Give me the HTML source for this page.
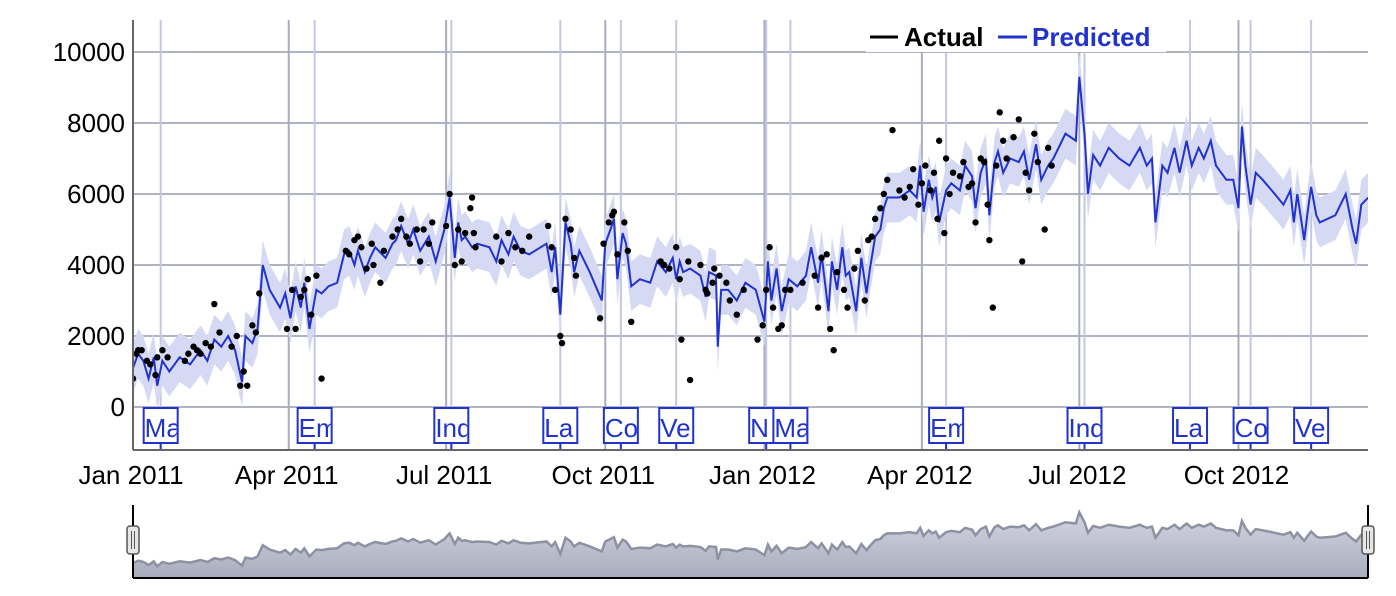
<!DOCTYPE html>
<html><head><meta charset="utf-8"><style>
html,body{margin:0;padding:0;background:#fff;}
svg{display:block;font-family:"Liberation Sans",sans-serif;}
</style></head><body>
<svg id="chart" width="1396" height="596" viewBox="0 0 1396 596" xmlns="http://www.w3.org/2000/svg">
<defs>
<clipPath id="plotClip"><rect x="133" y="20" width="1235" height="430"/></clipPath>
<linearGradient id="miniGrad" x1="0" y1="0" x2="0" y2="1"><stop offset="0" stop-color="#d3d5e2"/><stop offset="1" stop-color="#a9acbd"/></linearGradient>
</defs>
<g id="grid"></g>
<g id="band" clip-path="url(#plotClip)"></g>
<g id="series" clip-path="url(#plotClip)"></g>
<g id="annots"></g>
<g id="axes"></g>
<g id="legend">
<rect x="866" y="20" width="300" height="32" fill="#fff"/>
<line x1="870" y1="37" x2="898" y2="37" stroke="#000" stroke-width="3"/>
<text x="904" y="46" font-size="26" font-weight="bold" fill="#000">Actual</text>
<line x1="998" y1="37" x2="1027" y2="37" stroke="#2233cc" stroke-width="3"/>
<text x="1032" y="46" font-size="26" font-weight="bold" fill="#2233cc">Predicted</text>
</g>
<g id="range"></g>
</svg>
<script>
const predDays=[0,3,6,9,12,14,17,21,27,33,39,43,47,51,55,59,63,65,69,72,75,79,85,88,91,94,97,99,102,106,109,113,118,122,125,128,130,134,137,140,146,150,152,155,159,162,166,171,175,180,183,186,188,190,192,196,199,206,210,213,217,220,224,229,239,242,244,247,250,253,255,258,264,271,273,276,278,280,283,285,288,293,299,303,308,312,314,316,318,322,328,331,333,337,338,340,344,349,354,360,365,367,369,372,375,379,384,389,392,396,398,402,404,407,410,412,414,418,421,424,426,429,432,434,436,443,449,453,455,457,460,462,464,466,470,473,478,481,485,487,490,493,495,498,500,503,507,512,515,518,522,525,529,532,536,539,545,547,550,552,555,559,564,570,576,582,586,589,591,595,598,602,605,609,612,616,619,623,626,632,636,639,641,643,646,649,653,660,665,669,671,673,677,679,681,684,686,695,701,705,707,710,714];
const predVals=[1100,1500,1300,800,1400,600,1300,1000,1400,1200,1600,1300,1900,1700,2000,1600,700,2000,1800,2200,4000,3300,2800,3200,2500,3400,2800,3500,2200,3300,3200,3400,3500,4300,4400,4000,4400,3800,4200,4500,4200,4600,4700,5100,4600,5000,4400,4800,4100,5000,5900,4200,5200,4700,4800,4500,4600,4500,4100,4700,4300,4800,4400,4300,4600,3800,4500,2600,5200,4600,3800,4400,3800,3000,4600,5000,5300,3600,4900,4600,3400,3600,3500,4100,3800,4200,3600,4100,3800,3900,3700,3100,3800,3700,1700,3300,3300,3000,3500,3300,2400,4100,3000,3900,2700,3600,3400,3700,4500,3500,4300,2700,4100,3300,4500,3700,3800,2700,4200,3200,3900,4800,5000,5600,5900,5900,6100,5900,6800,5500,6400,5900,6200,5200,6100,6300,6100,6800,6500,5600,6600,7000,5400,6900,7200,6600,7000,6900,7200,6400,7400,6400,6800,7000,7400,7700,7500,9300,7700,6000,7100,6800,7300,7000,6800,7300,6800,7000,5200,6800,6600,7300,6600,7500,6800,7300,7000,7500,6800,6400,6400,5600,7900,6800,5700,6600,6400,6000,5700,6100,5200,6000,4700,5500,6200,5400,5200,5400,6000,5000,4600,5700,5900];
const actDays=[0,2,3,5,8,10,13,14,17,20,30,32,35,37,39,42,45,47,50,57,60,62,64,66,69,71,73,89,92,94,97,99,101,103,106,109,123,125,128,130,132,135,138,139,143,145,150,153,155,158,160,164,166,168,171,173,181,183,186,188,190,192,195,196,197,198,210,213,217,221,225,229,240,242,244,247,248,250,253,255,256,270,272,275,277,278,280,284,286,288,305,307,310,314,316,317,321,322,328,331,332,335,336,339,343,345,349,353,361,364,366,368,370,373,375,377,380,387,394,396,398,401,403,405,407,411,413,417,419,423,425,427,429,432,434,436,439,443,446,449,451,454,456,458,461,463,465,466,469,470,472,474,478,480,483,485,487,490,492,494,495,497,499,501,503,505,509,512,514,516,518,521,523,527,529,531];
const actVals=[800,1500,1600,1600,1300,1200,900,1400,1600,1400,1300,1500,1700,1600,1500,1800,1700,2900,2100,1700,2000,600,1000,600,2300,2100,3200,2200,3300,2200,3100,3300,3600,2600,3700,800,4400,4300,4700,4800,4500,3900,4600,4000,3500,4400,4800,5000,5300,4800,4600,5000,4100,5000,4600,5200,5100,6000,4000,5000,4100,4900,5600,5900,4900,4500,4800,4100,4900,4500,4400,4800,5100,4500,3300,2000,1800,5300,5000,4200,3700,2500,4600,5200,5400,5500,4300,5200,4400,2400,4100,4000,3900,4500,3600,1900,4100,760,4000,3300,3200,3500,3900,3700,3500,3000,2600,3300,1900,2300,3300,4500,2800,2200,2300,3300,3300,3500,3700,2800,4200,4300,2200,1600,3800,3300,2800,3900,4400,3000,4700,4800,5300,5600,6000,6400,7800,6100,5900,6200,6700,5700,6300,6800,6100,6600,5300,7500,4900,7000,6000,6600,6500,6900,6200,6300,5200,7000,6900,5700,4700,2800,6800,8300,7500,7000,7600,8100,4100,6600,6100,7700,6900,5000,7300,6800];
const yTicks=[0,2000,4000,6000,8000,10000];
const xTickDays=[0,90,181,273,365,456,547,639];
const xTickLabels=["Jan 2011","Apr 2011","Jul 2011","Oct 2011","Jan 2012","Apr 2012","Jul 2012","Oct 2012"];
const holidayDays=[16,105,184,247,282,314,366,380,470,550,611,646,681];
const holidayLabels=["Ma","Em","Ind","La","Co","Ve","N","Ma","Em","Ind","La","Co","Ve"];
const intervalHalfWidth=700;

const NS="http://www.w3.org/2000/svg";
const X0=133,PX_PER_DAY=1.73;
function xs(d){return X0+d*PX_PER_DAY;}
function ys(v){return 407-v*0.0355;}
function ysMini(v){return 570-v*0.0062;}
function mk(tag,attrs,parent){const e=document.createElementNS(NS,tag);for(const k in attrs)e.setAttribute(k,attrs[k]);parent.appendChild(e);return e;}
const grid=document.getElementById('grid'),band=document.getElementById('band'),series=document.getElementById('series'),annots=document.getElementById('annots'),axes=document.getElementById('axes'),range=document.getElementById('range');

yTicks.forEach(v=>{
  const l=mk('line',{x1:133,x2:1368,y1:ys(v),y2:ys(v),stroke:'#b0b3c2','stroke-width':2},grid);
  
  
  const t=mk('text',{x:125,y:ys(v)+9,'text-anchor':'end','font-size':26,fill:'#000'},axes);
  t.textContent=v;
  
  
});
xTickDays.forEach((d,i)=>{
  const l=mk('line',{x1:xs(d),x2:xs(d),y1:20,y2:450,stroke:'#a9acbb','stroke-width':2},grid);
  
  
  const t=mk('text',{x:xs(d)-2,y:484,'text-anchor':'middle','font-size':26,fill:'#000'},axes);
  t.textContent=xTickLabels[i];
  
  
});
holidayDays.forEach(d=>{
  const l=mk('line',{x1:xs(d),x2:xs(d),y1:20,y2:450,stroke:'#c3c6e4','stroke-width':2},grid);
  
  
});
let up=predDays.map((d,i)=>xs(d)+','+ys(predVals[i]+intervalHalfWidth));
let lo=predDays.map((d,i)=>xs(d)+','+ys(predVals[i]-intervalHalfWidth)).reverse();
const bp=mk('polygon',{points:up.concat(lo).join(' '),fill:'#d6d9f3'},band);


const pl=mk('polyline',{points:predDays.map((d,i)=>xs(d)+','+ys(predVals[i])).join(' '),fill:'none',stroke:'#2233cc','stroke-width':2},series);


actDays.forEach((d,i)=>{
  const c=mk('circle',{cx:xs(d),cy:ys(actVals[i]),r:3.2,fill:'#000'},series);
  
  
});
const ya=mk('line',{x1:133,x2:133,y1:20,y2:450,stroke:'#666','stroke-width':2},axes);


const xa=mk('line',{x1:133,x2:1368,y1:450,y2:450,stroke:'#666','stroke-width':2},axes);


holidayDays.forEach((d,i)=>{
  const cx=xs(d);
  const g=mk('g',{},annots);
  
  
  mk('line',{x1:cx,x2:cx,y1:443,y2:450,stroke:'#2233cc','stroke-width':2},g);
  const cid='ac'+i;
  const cp=mk('clipPath',{id:cid},g);
  mk('rect',{x:cx-16,y:409,width:32,height:33},cp);
  mk('rect',{x:cx-17,y:408,width:34,height:35,fill:'#fff',stroke:'#2233cc','stroke-width':2},g);
  const t=mk('text',{x:cx-16,y:437,'font-size':26,fill:'#2233cc','clip-path':'url(#'+cid+')'},g);
  t.textContent=holidayLabels[i];
});
const miniTop=predDays.map((d,i)=>xs(d)+','+ysMini(predVals[i]));
const mf=mk('polygon',{points:[X0+',578'].concat(miniTop).concat([xs(predDays[predDays.length-1])+',578']).join(' '),fill:'url(#miniGrad)'},range);


const ml=mk('polyline',{points:miniTop.join(' '),fill:'none',stroke:'#8d91a1','stroke-width':2.5},range);


mk('line',{x1:133,x2:1368,y1:578,y2:578,stroke:'#000','stroke-width':2},range);
mk('line',{x1:133,x2:133,y1:505,y2:578,stroke:'#000','stroke-width':2},range);
mk('line',{x1:1368,x2:1368,y1:505,y2:578,stroke:'#000','stroke-width':2},range);
[133,1368].forEach(hx=>{
  const h=mk('g',{},range);
  
  
  mk('rect',{x:hx-6,y:526,width:12,height:28,rx:3,fill:'#e6e6e6',stroke:'#555','stroke-width':1.5},h);
  mk('line',{x1:hx-1.5,x2:hx-1.5,y1:531,y2:549,stroke:'#555','stroke-width':1},h);
  mk('line',{x1:hx+1.5,x2:hx+1.5,y1:531,y2:549,stroke:'#555','stroke-width':1},h);
});
</script>
</body></html>
